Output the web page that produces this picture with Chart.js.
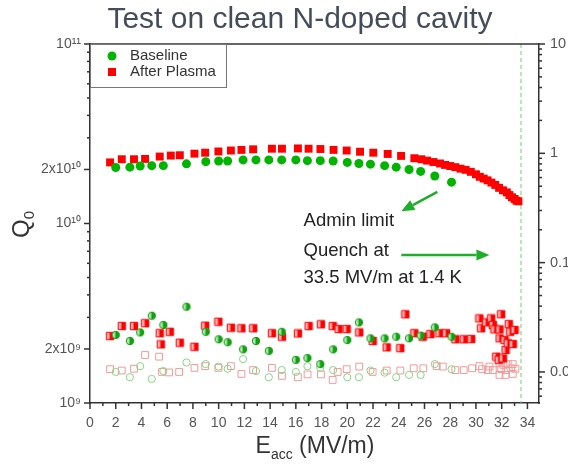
<!DOCTYPE html>
<html>
<head>
<meta charset="utf-8">
<script src="https://cdn.jsdelivr.net/npm/chart.js@4.4.1/dist/chart.umd.min.js"></script>
<style>
  html, body { margin: 0; padding: 0; background: #fff; overflow: hidden; }
  #wrap { width: 568px; height: 466px; overflow: hidden; }
  #box { width: 600px; height: 466px; position: relative; }
</style>
</head>
<body>
<div id="wrap"><div id="box"><canvas id="q0_chart"></canvas></div></div>
<script>
// Q0 vs Eacc, left axis
const baseX = [2.0, 3.1, 3.9, 4.8, 5.7, 7.5, 9.0, 10.0, 10.7, 11.9, 12.9, 13.9, 14.9, 16.0, 16.9, 17.9, 18.9, 20.0, 20.9, 21.8, 22.9, 23.8, 24.8, 25.7, 26.8, 28.1];
const baseQ = [2.05e10, 2.06e10, 2.09e10, 2.10e10, 2.10e10, 2.15e10, 2.21e10, 2.23e10, 2.23e10, 2.26e10, 2.26e10, 2.26e10, 2.26e10, 2.26e10, 2.24e10, 2.24e10, 2.23e10, 2.19e10, 2.16e10, 2.14e10, 2.10e10, 2.06e10, 2.00e10, 1.95e10, 1.84e10, 1.70e10];

const plasmaX = [1.56, 2.47, 3.42, 4.28, 5.42, 6.28, 6.98, 8.12, 8.95, 9.98, 10.95, 11.77, 12.68, 14.14, 14.92, 16.16, 16.99, 17.91, 18.93, 19.95, 20.99, 22.02, 23.14, 24.18, 25.21, 25.76, 26.2, 26.7, 27.2, 27.6, 28.0, 28.4, 28.8, 29.2, 29.6, 30.0, 30.3, 30.6, 30.9, 31.2, 31.5, 31.8, 32.1, 32.4, 32.6, 32.8, 33.0, 33.15, 33.3];
const plasmaQ = [2.19e10, 2.28e10, 2.28e10, 2.29e10, 2.36e10, 2.39e10, 2.40e10, 2.45e10, 2.48e10, 2.52e10, 2.55e10, 2.57e10, 2.59e10, 2.61e10, 2.61e10, 2.62e10, 2.61e10, 2.60e10, 2.57e10, 2.55e10, 2.51e10, 2.48e10, 2.44e10, 2.38e10, 2.31e10, 2.28e10, 2.24e10, 2.20e10, 2.16e10, 2.12e10, 2.09e10, 2.06e10, 2.02e10, 1.99e10, 1.94e10, 1.88e10, 1.82e10, 1.78e10, 1.74e10, 1.69e10, 1.64e10, 1.58e10, 1.53e10, 1.49e10, 1.44e10, 1.40e10, 1.37e10, 1.34e10, 1.33e10];

// right axis series (half filled + open markers)
const baseHalf = [0.0218, 0.0192, 0.0230, 0.0327, 0.0269, 0.0395, 0.0233, 0.0199, 0.0187, 0.0161, 0.0192, 0.0156, 0.0233, 0.0129, 0.0134, 0.0118, 0.0161, 0.0196, 0.0284, 0.0203, 0.0203, 0.0210, 0.0203, 0.0215, 0.0256, 0.0210];
const baseOpen = [0.0100, 0.00895, 0.0113, 0.00863, 0.0102, 0.0122, 0.0118, 0.0112, 0.0107, 0.0131, 0.0102, 0.00895, 0.0104, 0.0100, 0.0113, 0.0109, 0.0104, 0.00895, 0.00895, 0.0103, 0.00985, 0.00895, 0.0094, 0.0094, 0.0118, 0.0106];

const plasmaHalfX = [1.56, 2.47, 3.42, 4.28, 5.42, 5.5, 6.2, 6.98, 8.12, 8.95, 9.98, 10.95, 11.77, 12.68, 14.14, 14.92, 16.16, 16.99, 17.95, 18.86, 19.32, 19.95, 20.93, 21.97, 23.06, 24.12, 24.51, 25.21, 25.86, 26.46, 27.16, 27.68, 28.4, 29.05, 29.63, 30.27, 30.4, 30.79, 31.18, 31.31, 31.44, 31.57, 31.77, 31.83, 31.83, 31.96, 32.09, 32.22, 32.3, 32.47, 32.55, 32.66, 32.86, 33.0];
const plasmaHalf = [0.0213, 0.0263, 0.0263, 0.0279, 0.0226, 0.0179, 0.0233, 0.0185, 0.0170, 0.0265, 0.0288, 0.0254, 0.0251, 0.0251, 0.0226, 0.0210, 0.0225, 0.0263, 0.0273, 0.0263, 0.0247, 0.0247, 0.0230, 0.0192, 0.0168, 0.0165, 0.0337, 0.0226, 0.0210, 0.0222, 0.0226, 0.0226, 0.0199, 0.0199, 0.0200, 0.0309, 0.0251, 0.0284, 0.0309, 0.0269, 0.0245, 0.0138, 0.0129, 0.0245, 0.0203, 0.0337, 0.0133, 0.0196, 0.0159, 0.0183, 0.0274, 0.0233, 0.0180, 0.0242];

const plasmaOpenX = [1.56, 2.47, 3.42, 4.28, 5.37, 5.6, 6.15, 6.93, 8.12, 8.95, 9.98, 10.95, 11.77, 12.68, 14.14, 14.92, 16.16, 16.91, 17.95, 18.86, 19.25, 19.95, 20.93, 21.97, 23.06, 24.12, 25.16, 25.91, 26.95, 27.42, 28.4, 29.05, 29.7, 30.27, 30.48, 30.92, 31.05, 31.31, 31.83, 31.83, 31.96, 32.14, 32.3, 32.35, 32.47, 32.74, 32.86, 32.86, 33.07];
const plasmaOpen = [0.0106, 0.0103, 0.0107, 0.0143, 0.0138, 0.0100, 0.0099, 0.0100, 0.0109, 0.0113, 0.0109, 0.0113, 0.0096, 0.0104, 0.0109, 0.0092, 0.00895, 0.0095, 0.0095, 0.00845, 0.0100, 0.0106, 0.0112, 0.0100, 0.0103, 0.0103, 0.0108, 0.0108, 0.0113, 0.0112, 0.0104, 0.0104, 0.0108, 0.0113, 0.0106, 0.0104, 0.0112, 0.0104, 0.0120, 0.0094, 0.0106, 0.0116, 0.0094, 0.0104, 0.0118, 0.0108, 0.0118, 0.0096, 0.0107];

// tick labels
const leftTickValues = [1e9, 2e9, 1e10, 2e10, 1e11];
const leftTickLabels = ['10⁹', '2x10⁹', '10¹⁰', '2x10¹⁰', '10¹¹'];
const rightTickValues = [0.01, 0.1, 1, 10];
const rightTickLabels = ['0.01', '0.1', '1', '10'];

// notes
const quenchField = 33.5;
const noteText = ['Admin limit', 'Quench at', '33.5 MV/m at 1.4 K'];
const noteX = [16.6, 16.6, 16.6];
const noteQ = [1.04e10, 7.0e9, 4.97e9];
const arrowFromX = [27.0, 24.2];
const arrowFromQ = [1.50e10, 6.67e9];
const arrowToX = [24.2, 31.05];
const arrowToQ = [1.17e10, 6.67e9];

const GREEN = '#00b400';
const RED = '#ff0000';
const FONT = "'Liberation Sans', Arial, sans-serif";

const pts = (xs, ys) => xs.map((x, i) => ({ x: x, y: ys[i] }));

function halfMarker(shape, solid, light) {
  const c = document.createElement('canvas');
  c.width = 10; c.height = 10;
  const g = c.getContext('2d');
  const m = 5, r = 3.7;
  g.beginPath();
  if (shape === 'circle') g.arc(m, m, r, 0, Math.PI * 2);
  else g.rect(m - r, m - r, 2 * r, 2 * r);
  g.fillStyle = light;
  g.fill();
  g.save();
  g.clip();
  g.fillStyle = solid;
  g.fillRect(m - 0.5, 0, 10, 10);
  g.restore();
  g.lineWidth = 1;
  g.strokeStyle = solid;
  g.stroke();
  return c;
}

const decor = {
  id: 'decor',
  beforeDatasetsDraw(chart) {
    const { ctx, chartArea: a, scales: { x } } = chart;
    const px = x.getPixelForValue(quenchField);
    ctx.save();
    ctx.strokeStyle = '#6fcf6f';
    ctx.lineWidth = 1;
    ctx.setLineDash([4, 3]);
    ctx.beginPath();
    ctx.moveTo(px, a.top);
    ctx.lineTo(px, a.bottom);
    ctx.stroke();
    ctx.restore();
  },
  afterDraw(chart) {
    const { ctx, chartArea: a, scales: { x, y, y2 } } = chart;
    ctx.save();
    ctx.strokeStyle = '#333';
    ctx.lineWidth = 1.5;
    ctx.beginPath();
    ctx.moveTo(a.left, a.top);
    ctx.lineTo(a.right, a.top);
    ctx.stroke();

    const line = (x0, y0, x1, y1) => { ctx.beginPath(); ctx.moveTo(x0, y0); ctx.lineTo(x1, y1); ctx.stroke(); };
    // x ticks
    for (let v = 0; v <= 34; v++) {
      const p = x.getPixelForValue(v);
      line(p, a.bottom, p, a.bottom + (v % 2 ? 3 : 6));
    }
    // log ticks
    const logTicks = (scale, xAxis, dir, majors) => {
      const lo = Math.floor(Math.log10(scale.min)), hi = Math.ceil(Math.log10(scale.max));
      for (let e = lo; e <= hi; e++) {
        for (let k = 1; k <= 9; k++) {
          const v = k * Math.pow(10, e);
          if (v < scale.min * 0.999 || v > scale.max * 1.001) continue;
          const p = scale.getPixelForValue(v);
          const major = majors.some(m => Math.abs(m / v - 1) < 1e-6);
          line(xAxis, p, xAxis + dir * (major ? 6 : 3), p);
        }
      }
    };
    logTicks(y, a.left, -1, leftTickValues);
    logTicks(y2, a.right, 1, rightTickValues);

    // legend
    const lx = a.left, ly = a.top, lw = 136, lh = 43;
    ctx.lineWidth = 1;
    ctx.strokeStyle = '#777';
    ctx.strokeRect(lx + 0.5, ly + 0.5, lw, lh);
    ctx.fillStyle = GREEN;
    ctx.beginPath();
    ctx.arc(lx + 22, ly + 12, 4.5, 0, Math.PI * 2);
    ctx.fill();
    ctx.fillStyle = RED;
    ctx.fillRect(lx + 18, ly + 24, 8, 8);
    ctx.fillStyle = '#333';
    ctx.font = '15px ' + FONT;
    ctx.textBaseline = 'middle';
    ctx.textAlign = 'left';
    ctx.fillText('Baseline', lx + 40, ly + 12);
    ctx.fillText('After Plasma', lx + 40, ly + 28);

    // notes
    ctx.fillStyle = '#222';
    ctx.font = '18.5px ' + FONT;
    noteText.forEach((t, i) => {
      ctx.fillText(t, x.getPixelForValue(noteX[i]), y.getPixelForValue(noteQ[i]));
    });
    ctx.strokeStyle = '#1fae2a';
    ctx.fillStyle = '#1fae2a';
    ctx.lineWidth = 2.5;
    arrowFromX.forEach((fx, i) => {
      const x0 = x.getPixelForValue(fx), y0 = y.getPixelForValue(arrowFromQ[i]);
      const x1 = x.getPixelForValue(arrowToX[i]), y1 = y.getPixelForValue(arrowToQ[i]);
      const ang = Math.atan2(y1 - y0, x1 - x0), L = 13, W = 5.5;
      const bx = x1 - L * Math.cos(ang), by = y1 - L * Math.sin(ang);
      line(x0, y0, bx, by);
      ctx.beginPath();
      ctx.moveTo(x1, y1);
      ctx.lineTo(bx - W * Math.sin(ang), by + W * Math.cos(ang));
      ctx.lineTo(bx + W * Math.sin(ang), by - W * Math.cos(ang));
      ctx.closePath();
      ctx.fill();
    });

    // axis titles
    ctx.fillStyle = '#333';
    ctx.textBaseline = 'alphabetic';
    ctx.font = '23px ' + FONT;
    const wE = ctx.measureText('E').width;
    const wR = ctx.measureText(' (MV/m)').width;
    ctx.font = '14px ' + FONT;
    const wS = ctx.measureText('acc').width;
    let tx = 315 - (wE + wS + wR) / 2;
    ctx.font = '23px ' + FONT;
    ctx.fillText('E', tx, 453);
    ctx.font = '14px ' + FONT;
    ctx.fillText('acc', tx + wE, 459);
    ctx.font = '23px ' + FONT;
    ctx.fillText(' (MV/m)', tx + wE + wS, 453);

    ctx.translate(29, 238);
    ctx.rotate(-Math.PI / 2);
    ctx.font = '24px ' + FONT;
    ctx.fillText('Q', 0, 0);
    const wQ = ctx.measureText('Q').width;
    ctx.font = '15px ' + FONT;
    ctx.fillText('0', wQ, 5);
    ctx.restore();
  }
};

const chart = new Chart(document.getElementById('q0_chart'), {
  type: 'scatter',
  data: {
    datasets: [
      { label: 'Baseline', data: pts(baseX, baseQ), yAxisID: 'y', pointStyle: 'circle', pointRadius: 4.5, backgroundColor: GREEN, borderColor: GREEN, borderWidth: 0 },
      { label: 'After Plasma', data: pts(plasmaX, plasmaQ), yAxisID: 'y', pointStyle: 'rect', pointRadius: 5.6, backgroundColor: RED, borderColor: RED, borderWidth: 0 },
      { label: 'Baseline half', data: pts(baseX, baseHalf), yAxisID: 'y2', pointStyle: halfMarker('circle', '#10a010', '#b8e6b8') },
      { label: 'After Plasma half', data: pts(plasmaHalfX, plasmaHalf), yAxisID: 'y2', pointStyle: halfMarker('rect', RED, '#ffb0b0') },
      { label: 'Baseline open', data: pts(baseX, baseOpen), yAxisID: 'y2', pointStyle: 'circle', pointRadius: 3.6, backgroundColor: 'rgba(0,0,0,0)', borderColor: '#86d686', borderWidth: 1 },
      { label: 'After Plasma open', data: pts(plasmaOpenX, plasmaOpen), yAxisID: 'y2', pointStyle: 'rect', pointRadius: 4.8, backgroundColor: 'rgba(0,0,0,0)', borderColor: '#f59a9a', borderWidth: 1 }
    ]
  },
  options: {
    responsive: true,
    maintainAspectRatio: false,
    animation: false,
    layout: { padding: 0 },
    plugins: {
      legend: { display: false },
      tooltip: { enabled: false },
      title: {
        display: true,
        text: 'Test on clean N-doped cavity',
        color: '#454c59',
        font: { family: FONT, size: 30, weight: 'normal' },
        padding: { top: 2, bottom: 6 }
      }
    },
    scales: {
      x: {
        type: 'linear',
        min: 0,
        max: 34.9,
        grid: { display: false, drawTicks: false },
        border: { display: true, color: '#333', width: 1.5 },
        ticks: { stepSize: 2, includeBounds: false, autoSkip: false, maxRotation: 0, padding: 12, color: '#555', font: { family: FONT, size: 14 } },
        afterFit: s => { s.height = 63; }
      },
      y: {
        type: 'logarithmic',
        position: 'left',
        min: 1e9,
        max: 1e11,
        grid: { display: false, drawTicks: false },
        border: { display: true, color: '#333', width: 1.5 },
        afterBuildTicks: s => { s.ticks = leftTickValues.map(v => ({ value: v })); },
        ticks: { autoSkip: false, padding: 9, color: '#555', font: { family: FONT, size: 14 }, callback: (v, i) => leftTickLabels[i] },
        afterFit: s => { s.width = 90; }
      },
      y2: {
        type: 'logarithmic',
        position: 'right',
        min: 0.0052,
        max: 10,
        grid: { display: false, drawTicks: false },
        border: { display: true, color: '#333', width: 1.5 },
        afterBuildTicks: s => { s.ticks = rightTickValues.map(v => ({ value: v })); },
        ticks: { autoSkip: false, padding: 11, color: '#555', font: { family: FONT, size: 14.5 }, callback: (v, i) => rightTickLabels[i] },
        afterFit: s => { s.width = 61; }
      }
    }
  },
  plugins: [decor]
});
</script>
</body>
</html>
